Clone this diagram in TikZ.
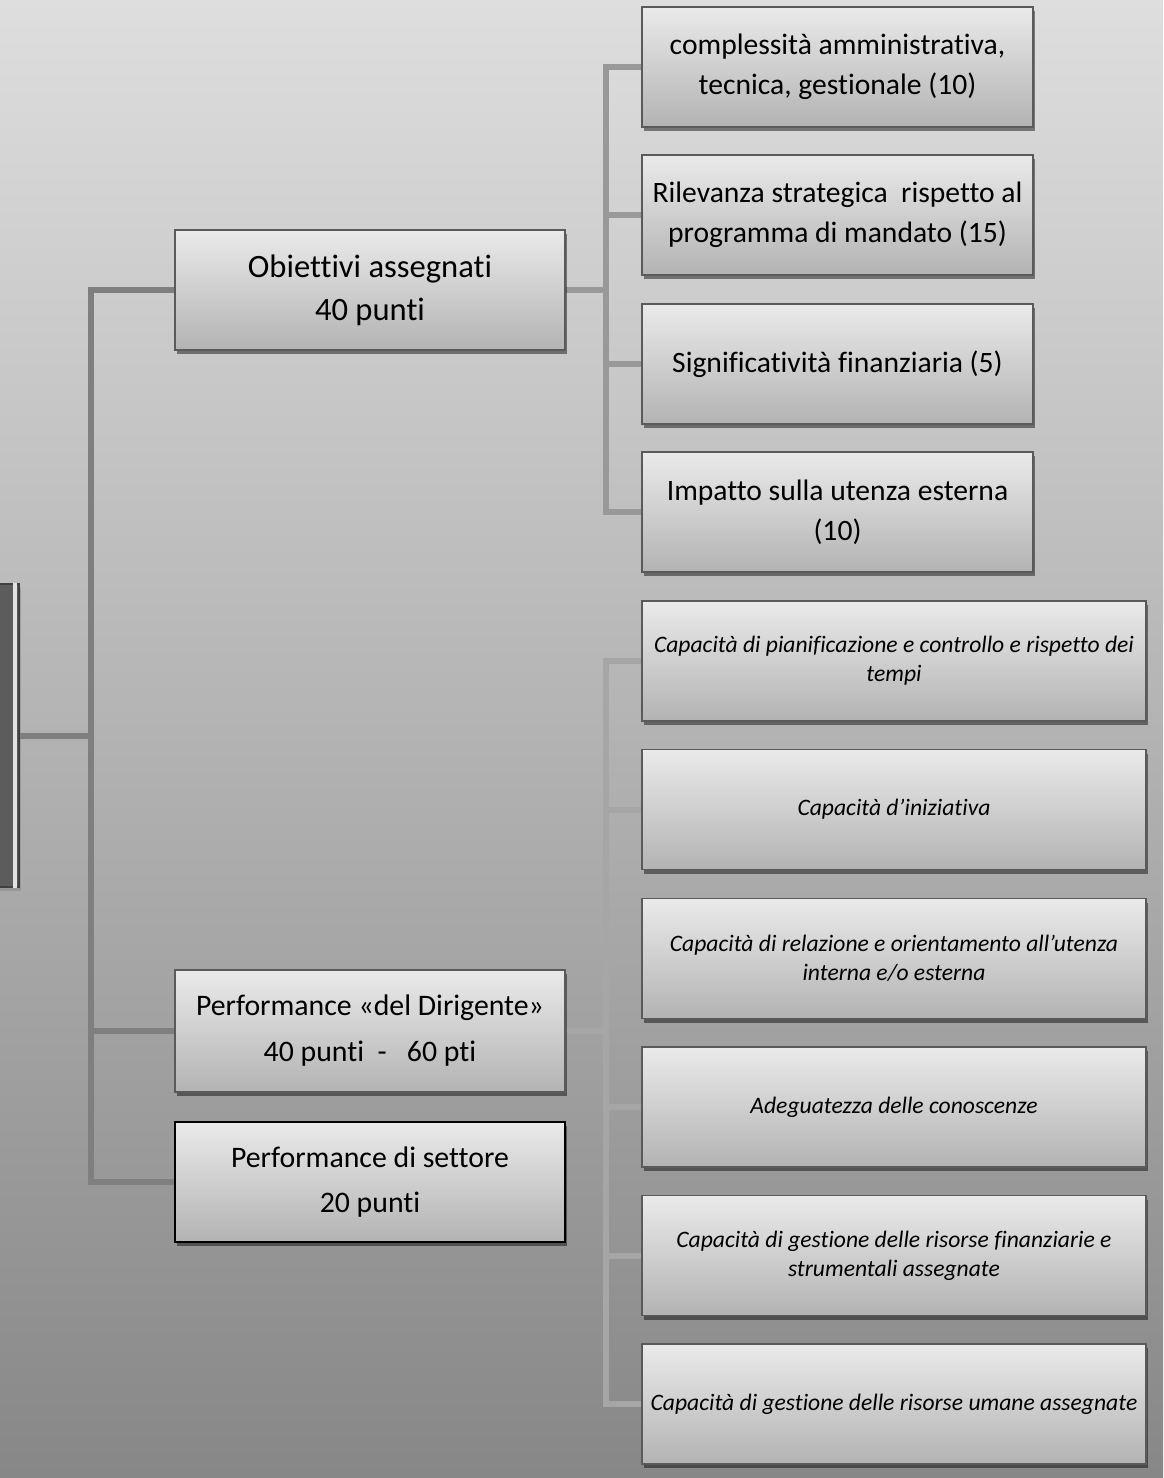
\documentclass[tikz,border=0pt]{standalone}
\usepackage{fontspec}
\setmainfont{Carlito}[Ligatures={NoCommon}]
\usetikzlibrary{shadows,backgrounds}

\definecolor{bgtop}{HTML}{DEDEDE}
\definecolor{bgbot}{HTML}{878787}
\definecolor{boxtop}{HTML}{EAEAEA}
\definecolor{boxbot}{HTML}{B3B3B3}
\definecolor{boxline}{HTML}{5A5A5A}
\definecolor{connmain}{HTML}{7F7F7F}
\definecolor{connobj}{HTML}{999999}
\definecolor{conndir}{HTML}{A6A6A6}
\definecolor{rootfill}{HTML}{5C5C5C}
\definecolor{rootedge}{HTML}{E2E2E2}

\tikzset{
  card/.style={draw=boxline, line width=0.8pt, top color=boxtop, bottom color=boxbot,
    drop shadow={shadow xshift=1pt, shadow yshift=-2pt, opacity=0.45, fill=black},
    align=center, inner sep=2pt, text=black},
  mainbox/.style={card, minimum width=195pt, minimum height=60pt,
    font=\fontsize{14.9}{23}\selectfont},
  critbox/.style={card, minimum width=195.5pt, minimum height=60pt,
    font=\fontsize{14.8}{20}\selectfont},
  abilbox/.style={card, minimum width=252pt, minimum height=60pt,
    font=\fontsize{11.8}{14.5}\selectfont\itshape},
  rootbox/.style={draw=black!75, line width=0.8pt, fill=rootfill, minimum width=29pt,
    minimum height=151.5pt, drop shadow={shadow xshift=1pt, shadow yshift=-2pt, opacity=0.45}},
  trunkline/.style={draw=connmain, line width=3pt},
  objline/.style={draw=connobj, line width=3pt},
  dirline/.style={draw=conndir, line width=3pt}
}

\begin{document}
\begin{tikzpicture}[x=0.5pt, y=-0.5pt]
    \useasboundingbox (0,0) rectangle (1163,1478);
    \clip (0,0) rectangle (1163,1478);

    % root (cut by the left edge)
    \node[rootbox] (root) at (-10,735.5) {};
    \fill[rootedge] ([xshift=-3.5pt]root.north east) rectangle ([xshift=-1.2pt]root.south east);

    % first level
    \node[mainbox, font=\fontsize{16.3}{21.5}\selectfont] (obj) at (370,290) {Obiettivi assegnati\\40 punti};
    \node[mainbox, minimum height=61pt] (dir) at (370,1031) {Performance «del Dirigente»\\40 punti~~-~~~60 pti};
    \node[mainbox, draw=black, line width=1.2pt, font=\fontsize{14.9}{22.5}\selectfont] (set) at (370,1182) {Performance di settore\\20 punti};

    % criteria of the objectives
    \node[critbox] (o1) at (837.5,67)  {complessità amministrativa,\\tecnica, gestionale (10)};
    \node[critbox] (o2) at (837.5,215) {Rilevanza strategica~ rispetto al\\programma di mandato (15)};
    \node[critbox] (o3) at (837.5,364) {Significatività finanziaria (5)};
    \node[critbox] (o4) at (837.5,512) {Impatto sulla utenza esterna\\(10)};

    % abilities of the manager
    \node[abilbox] (d1) at (894,661)    {Capacità di pianificazione e controllo e rispetto dei\\tempi};
    \node[abilbox] (d2) at (894,809.5)  {Capacità d’iniziativa};
    \node[abilbox] (d3) at (894,958.5)  {Capacità di relazione e orientamento all’utenza\\interna e/o esterna};
    \node[abilbox] (d4) at (894,1107)   {Adeguatezza delle conoscenze};
    \node[abilbox] (d5) at (894,1255.5) {Capacità di gestione delle risorse finanziarie e\\strumentali assegnate};
    \node[abilbox] (d6) at (894,1404)   {Capacità di gestione delle risorse umane assegnate};

    % connectors, behind the boxes
    \begin{scope}[on background layer]
        \shade[top color=bgtop, bottom color=bgbot] (0,0) rectangle (1163,1478);
        \draw[trunkline] (root.east) -- ++(35.5pt,0) coordinate (tr);
        \foreach \n in {obj,dir,set}
            \draw[trunkline] (tr) |- (\n.west);
        \draw[objline] (obj.east) -- ++(20pt,0) coordinate (ob);
        \foreach \i in {1,...,4}
            \draw[objline] (ob) |- (o\i.west);
        \draw[dirline] (dir.east) -- ++(20pt,0) coordinate (db);
        \foreach \i in {1,...,6}
            \draw[dirline] (db) |- (d\i.west);
    \end{scope}
\end{tikzpicture}
\end{document}
